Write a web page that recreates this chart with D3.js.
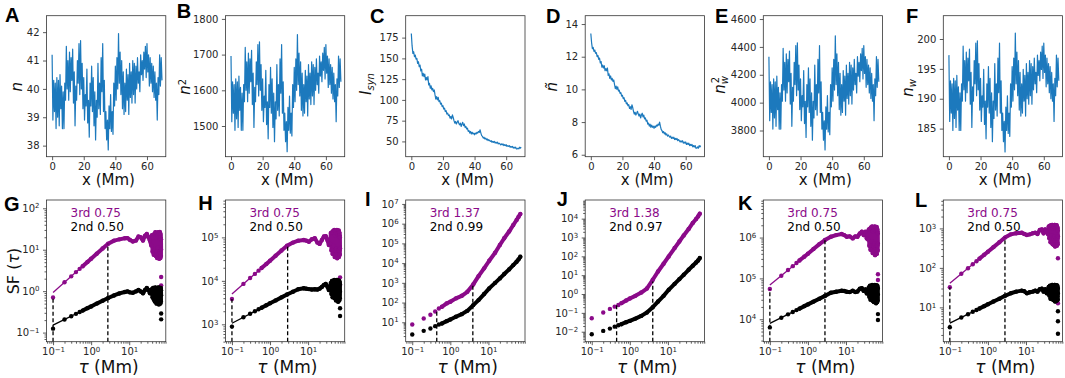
<!DOCTYPE html>
<html>
<head>
<meta charset="utf-8">
<script src="https://cdn.jsdelivr.net/npm/d3@7"></script>
<style>
  body { margin: 0; background: #fff; }
</style>
</head>
<body>
<div id="chart"></div>
<script>
// ---------- top row: profiles along x, one sample every 0.5 Mm from x = 0
const xStep = 0.5;
const xTicks = [0, 20, 40, 60];

const nProfile = [
  41.2, 38.9, 40.3, 39.2, 40.2, 38.6, 40.4, 39.0, 40.3, 38.7,
  40.5, 39.3, 40.1, 38.6, 39.9, 38.6, 40.2, 39.6, 41.5, 40.0,
  41.0, 39.6, 41.3, 39.9, 41.1, 40.3, 41.4, 39.5, 40.6, 38.7,
  40.1, 39.6, 41.0, 40.2, 41.6, 39.8, 41.7, 40.0, 40.9, 39.3,
  40.4, 38.9, 39.8, 39.4, 40.7, 38.8, 39.6, 38.3, 40.2, 39.4,
  40.8, 39.2, 40.4, 38.7, 39.9, 38.2, 39.6, 39.0, 40.9, 39.3,
  40.2, 39.1, 41.1, 39.9, 41.6, 39.2, 40.3, 38.6, 39.2, 38.2,
  38.9, 37.85, 39.4, 38.6, 39.8, 38.5, 39.2, 38.4, 40.2, 39.4,
  40.8, 39.6, 41.1, 40.0, 41.95, 40.2, 41.3, 39.8, 41.0, 39.3,
  40.6, 39.1, 40.2, 39.2, 40.7, 39.6, 40.5, 39.1, 40.9, 39.7,
  40.6, 39.5, 41.0, 39.8, 40.9, 39.5, 40.8, 40.0, 41.1, 40.2,
  40.6, 39.9, 41.2, 40.5, 41.0, 40.3, 41.3, 40.7, 41.5, 40.4,
  41.6, 40.6, 41.2, 40.1, 41.1, 40.2, 40.9, 39.9, 40.8, 39.7,
  40.6, 39.6, 40.2, 38.9, 40.4, 39.8, 41.2, 40.1, 41.1, 40.3
];

const n2Profile = [
  1696, 1512, 1624, 1536, 1616, 1488, 1632, 1520, 1624, 1496,
  1640, 1544, 1608, 1488, 1592, 1488, 1616, 1568, 1720, 1600,
  1680, 1568, 1704, 1592, 1688, 1624, 1712, 1560, 1648, 1496,
  1608, 1568, 1680, 1616, 1728, 1584, 1736, 1600, 1672, 1544,
  1632, 1512, 1584, 1552, 1656, 1504, 1568, 1464, 1616, 1552,
  1664, 1536, 1632, 1496, 1592, 1456, 1568, 1520, 1672, 1544,
  1616, 1528, 1688, 1592, 1728, 1536, 1624, 1488, 1536, 1456,
  1512, 1428, 1552, 1488, 1584, 1480, 1536, 1472, 1616, 1552,
  1664, 1568, 1688, 1600, 1756, 1616, 1704, 1584, 1680, 1544,
  1648, 1528, 1616, 1536, 1656, 1568, 1640, 1528, 1672, 1576,
  1648, 1560, 1680, 1584, 1672, 1560, 1664, 1600, 1688, 1616,
  1648, 1592, 1696, 1640, 1680, 1624, 1704, 1656, 1720, 1632,
  1728, 1648, 1696, 1608, 1688, 1616, 1672, 1592, 1664, 1576,
  1648, 1568, 1616, 1512, 1632, 1584, 1696, 1608, 1688, 1624
];

const isynProfile = [
  180, 165, 156, 158, 152, 154, 149, 150, 144, 146,
  140, 142, 135, 137, 129, 132, 128, 131, 124, 127,
  124, 128, 118, 120, 114, 117, 112, 114, 110, 112,
  106, 101, 104, 100, 103, 98, 99, 95, 96, 92,
  93, 89, 90, 86, 87, 83, 84, 81, 82, 78,
  80, 77, 82, 79, 75, 72, 74, 71, 73, 75,
  72, 70, 72, 68, 71, 73, 69, 71, 67, 68,
  65, 66, 62, 63, 60, 62, 59, 61, 59, 60,
  58, 60, 59, 61, 60, 62, 61, 64, 60, 57,
  56, 54, 55, 53, 54, 52, 53, 51, 52, 51,
  50, 51, 49, 50, 49, 50, 48, 49, 48, 49,
  47, 48, 47, 46, 47, 46, 47, 45, 46, 45,
  46, 44, 45, 44, 45, 43, 44, 43, 44, 42,
  43, 42, 43, 41, 41, 42, 41, 43, 42, 43
];

const ntildeProfile = [
  13.42, 12.85, 12.49, 12.57, 12.33, 12.41, 12.21, 12.25, 12.00, 12.08,
  11.83, 11.92, 11.62, 11.70, 11.36, 11.49, 11.31, 11.45, 11.14, 11.27,
  11.14, 11.31, 10.86, 10.95, 10.68, 10.82, 10.58, 10.68, 10.49, 10.58,
  10.30, 10.05, 10.20, 10.00, 10.15, 9.90, 9.95, 9.75, 9.80, 9.59,
  9.64, 9.43, 9.49, 9.27, 9.33, 9.11, 9.17, 9.00, 9.06, 8.83,
  8.94, 8.77, 9.06, 8.89, 8.66, 8.49, 8.60, 8.43, 8.54, 8.66,
  8.49, 8.37, 8.49, 8.25, 8.43, 8.54, 8.31, 8.43, 8.19, 8.25,
  8.06, 8.12, 7.87, 7.94, 7.75, 7.87, 7.68, 7.81, 7.68, 7.75,
  7.62, 7.75, 7.68, 7.81, 7.75, 7.87, 7.81, 8.00, 7.75, 7.55,
  7.48, 7.35, 7.42, 7.28, 7.35, 7.21, 7.28, 7.14, 7.21, 7.14,
  7.07, 7.14, 7.00, 7.07, 7.00, 7.07, 6.93, 7.00, 6.93, 7.00,
  6.86, 6.93, 6.86, 6.78, 6.86, 6.78, 6.86, 6.71, 6.78, 6.71,
  6.78, 6.63, 6.71, 6.63, 6.71, 6.56, 6.63, 6.56, 6.63, 6.48,
  6.56, 6.48, 6.56, 6.40, 6.40, 6.48, 6.40, 6.56, 6.48, 6.56
];

const nw2Profile = [
  4330, 3870, 4150, 3930, 4130, 3810, 4170, 3890, 4150, 3830,
  4190, 3950, 4110, 3810, 4070, 3810, 4130, 4010, 4390, 4090,
  4290, 4010, 4350, 4070, 4310, 4150, 4370, 3990, 4210, 3830,
  4110, 4010, 4290, 4130, 4410, 4050, 4430, 4090, 4270, 3950,
  4170, 3870, 4050, 3970, 4230, 3850, 4010, 3750, 4130, 3970,
  4250, 3930, 4170, 3830, 4070, 3730, 4010, 3890, 4270, 3950,
  4130, 3910, 4310, 4070, 4410, 3930, 4150, 3810, 3930, 3730,
  3870, 3660, 3970, 3810, 4050, 3790, 3930, 3770, 4130, 3970,
  4250, 4010, 4310, 4090, 4480, 4130, 4350, 4050, 4290, 3950,
  4210, 3910, 4130, 3930, 4230, 4010, 4190, 3910, 4270, 4030,
  4210, 3990, 4290, 4050, 4270, 3990, 4250, 4090, 4310, 4130,
  4210, 4070, 4330, 4190, 4290, 4150, 4350, 4230, 4390, 4170,
  4410, 4210, 4330, 4110, 4310, 4130, 4270, 4070, 4250, 4030,
  4210, 4010, 4130, 3870, 4170, 4050, 4330, 4110, 4310, 4150
];

const nwProfile = [
  197.3, 186.2, 193.0, 187.6, 192.5, 184.7, 193.4, 186.7, 193.0, 185.2,
  193.9, 188.1, 192.0, 184.7, 191.0, 184.7, 192.5, 189.6, 198.8, 191.5,
  196.4, 189.6, 197.8, 191.0, 196.8, 193.0, 198.3, 189.1, 194.4, 185.2,
  192.0, 189.6, 196.4, 192.5, 199.3, 190.5, 199.7, 191.5, 195.9, 188.1,
  193.4, 186.2, 190.5, 188.6, 194.9, 185.7, 189.6, 183.3, 192.5, 188.6,
  195.4, 187.6, 193.4, 185.2, 191.0, 182.8, 189.6, 186.7, 195.9, 188.1,
  192.5, 187.1, 196.8, 191.0, 199.3, 187.6, 193.0, 184.7, 187.6, 182.8,
  186.2, 181.1, 188.6, 184.7, 190.5, 184.2, 187.6, 183.7, 192.5, 188.6,
  195.4, 189.6, 196.8, 191.5, 201.0, 192.5, 197.8, 190.5, 196.4, 188.1,
  194.4, 187.1, 192.5, 187.6, 194.9, 189.6, 193.9, 187.1, 195.9, 190.0,
  194.4, 189.1, 196.4, 190.5, 195.9, 189.1, 195.4, 191.5, 196.8, 192.5,
  194.4, 191.0, 197.3, 193.9, 196.4, 193.0, 197.8, 194.9, 198.8, 193.4,
  199.3, 194.4, 197.3, 192.0, 196.8, 192.5, 195.9, 191.0, 195.4, 190.0,
  194.4, 189.6, 192.5, 186.2, 193.4, 190.5, 197.3, 192.0, 196.8, 193.0
];

// ---------- bottom row: structure functions, values are log10(SF)
const tauLag = [
  0.1, 0.2, 0.3, 0.4, 0.5, 0.6, 0.8, 1.0, 1.4, 2.0, 2.8, 4.0, 5.5, 7.7, 9.0, 10.5, 12.5, 15.0, 17.5, 20.0,
  23.0, 26.0, 29.0, 32.0, 35.0, 38.0, 39.5, 41.0, 42.5, 44.0, 45.5, 47.0, 48.5, 50.0, 51.0, 52.0, 53.0,
  54.0, 55.0, 56.0, 57.0, 58.0, 59.0, 60.0, 60.8, 61.5, 62.2, 63.0, 63.8, 64.5, 65.2, 66.0, 66.5, 67.0,
  67.5, 68.0, 68.4, 68.8
];
const tauLagSmooth = [0.1, 0.2, 0.3, 0.4, 0.5, 0.6, 0.8, 1.0, 1.4, 2.0, 2.8, 4.0, 5.5, 7.7, 10.5, 15.0, 20.0, 26.0, 35.0, 45.0, 55.0, 62.0, 68.8];
const tauEnd = 69;

const sfG3 = [-0.153, 0.215, 0.357, 0.46, 0.538, 0.602, 0.705, 0.783, 0.903, 1.028, 1.146, 1.22, 1.25, 1.276, 1.28, 1.236, 1.2, 1.22, 1.318, 1.3, 1.22, 1.34, 1.38, 1.3, 1.22,
  1.10, 1.35, 0.95, 1.30, 0.88, 1.38, 1.00, 1.42, 0.85, 1.30, 0.95, 1.40, 0.80, 1.33, 1.05, 1.42, 0.82, 1.36, 0.90, 1.40, 0.78, 1.30, 0.95, 1.43, 0.85, 1.35, 0.80, 1.38, 0.92, 1.30, 0.85, 1.25, 1.00];
const sfG2 = [-0.905, -0.685, -0.606, -0.548, -0.504, -0.469, -0.41, -0.369, -0.3, -0.231, -0.165, -0.104, -0.055, -0.022, -0.006, -0.03, -0.04, -0.006, 0.026, -0.006, -0.05, 0.026, 0.075, 0.026, -0.05,
  -0.05, 0.05, -0.15, 0.08, -0.2, 0.02, -0.25, 0.09, -0.12, 0.05, -0.3, 0.06, -0.18, 0.08, -0.28, 0.04, -0.1, 0.09, -0.32, 0.05, -0.2, 0.08, -0.25, 0.07, -0.15, 0.06, -0.3, 0.05, -0.2, 0.08, -0.25, 0.02, -0.1];
const sfH3 = [3.584, 3.93, 4.065, 4.16, 4.235, 4.295, 4.39, 4.465, 4.577, 4.697, 4.807, 4.88, 4.925, 4.94, 4.925, 4.9, 4.956, 4.98, 4.88, 4.85, 4.94, 5.02, 5.03, 4.94, 4.825,
  4.85, 5.10, 4.70, 5.12, 4.62, 5.15, 4.80, 5.17, 4.55, 5.05, 4.70, 5.14, 4.60, 5.10, 4.75, 5.17, 4.52, 5.08, 4.65, 5.15, 4.58, 5.10, 4.70, 5.16, 4.55, 5.12, 4.62, 5.10, 4.70, 5.05, 4.60, 5.00, 4.75];
const sfH2 = [2.947, 3.163, 3.243, 3.3, 3.345, 3.38, 3.44, 3.483, 3.55, 3.62, 3.687, 3.75, 3.807, 3.83, 3.82, 3.81, 3.80, 3.807, 3.80, 3.82, 3.86, 3.906, 3.93, 3.87, 3.79,
  3.80, 3.95, 3.70, 4.00, 3.62, 3.98, 3.75, 4.02, 3.60, 3.95, 3.70, 4.00, 3.55, 3.96, 3.72, 4.02, 3.58, 3.98, 3.65, 4.00, 3.52, 3.95, 3.70, 4.01, 3.60, 3.97, 3.55, 3.99, 3.68, 3.95, 3.60, 3.92, 3.75];
const sfI3 = [0.89, 1.195, 1.378, 1.55, 1.70, 1.784, 1.956, 2.04, 2.21, 2.342, 2.545, 2.92, 3.34, 3.733, 4.12, 4.525, 4.916, 5.26, 5.6, 5.93, 6.185, 6.35, 6.49];
const sfI2 = [0.383, 0.566, 0.686, 0.804, 0.89, 0.94, 1.058, 1.143, 1.277, 1.413, 1.58, 1.87, 2.124, 2.43, 2.718, 3.0, 3.225, 3.444, 3.68, 3.9, 4.068, 4.19, 4.32];
const sfJ3 = [-1.283, -0.984, -0.79, -0.67, -0.58, -0.485, -0.346, -0.24, -0.096, 0.08, 0.29, 0.755, 1.197, 1.606, 1.995, 2.44, 2.79, 3.11, 3.45, 3.77, 3.983, 4.12, 4.265];
const sfJ2 = [-2.134, -1.958, -1.836, -1.73, -1.655, -1.6, -1.495, -1.426, -1.303, -1.16, -0.985, -0.70, -0.40, -0.096, 0.223, 0.54, 0.79, 1.02, 1.287, 1.5, 1.675, 1.78, 1.91];
const sfK3 = [4.739, 5.065, 5.204, 5.3, 5.376, 5.44, 5.53, 5.604, 5.72, 5.84, 5.94, 6.02, 6.06, 6.087, 6.06, 6.02, 6.03, 5.98, 6.03, 6.02, 6.1, 6.143, 6.06, 6.143, 5.98,
  5.95, 6.20, 5.80, 6.22, 5.70, 6.25, 5.90, 6.27, 5.62, 6.15, 5.80, 6.24, 5.68, 6.20, 5.85, 6.27, 5.57, 6.18, 5.75, 6.25, 5.65, 6.20, 5.80, 6.26, 5.60, 6.22, 5.70, 6.20, 5.80, 6.15, 5.68, 6.10, 5.85];
const sfK2 = [3.8, 4.037, 4.12, 4.177, 4.224, 4.26, 4.32, 4.364, 4.432, 4.503, 4.572, 4.648, 4.673, 4.697, 4.69, 4.673, 4.665, 4.697, 4.665, 4.68, 4.746, 4.763, 4.697, 4.73, 4.633,
  4.65, 4.78, 4.55, 4.82, 4.48, 4.80, 4.60, 4.84, 4.45, 4.78, 4.55, 4.82, 4.42, 4.80, 4.58, 4.84, 4.44, 4.80, 4.50, 4.82, 4.39, 4.78, 4.55, 4.83, 4.45, 4.80, 4.42, 4.82, 4.52, 4.78, 4.46, 4.75, 4.60];
const sfL3 = [1.51, 1.852, 1.99, 2.092, 2.17, 2.234, 2.333, 2.41, 2.527, 2.65, 2.768, 2.85, 2.876, 2.893, 2.86, 2.834, 2.85, 2.876, 2.893, 2.86, 2.96, 2.977, 2.876, 2.977, 2.92,
  2.85, 3.05, 2.75, 3.07, 2.65, 3.08, 2.82, 3.09, 2.60, 3.00, 2.75, 3.06, 2.58, 3.05, 2.80, 3.09, 2.54, 3.02, 2.70, 3.08, 2.60, 3.04, 2.75, 3.08, 2.56, 3.05, 2.65, 3.03, 2.75, 3.00, 2.60, 2.95, 2.80];
const sfL2 = [0.497, 0.742, 0.826, 0.887, 0.932, 0.97, 1.031, 1.077, 1.148, 1.22, 1.292, 1.357, 1.398, 1.424, 1.41, 1.357, 1.383, 1.398, 1.424, 1.398, 1.459, 1.475, 1.398, 1.459, 1.357,
  1.40, 1.52, 1.30, 1.55, 1.22, 1.54, 1.35, 1.57, 1.20, 1.50, 1.30, 1.55, 1.18, 1.53, 1.32, 1.57, 1.15, 1.52, 1.25, 1.55, 1.16, 1.50, 1.30, 1.56, 1.20, 1.53, 1.18, 1.55, 1.28, 1.50, 1.20, 1.48, 1.35];

// stray points at the largest lag (log10 SF)
const tailG3 = [0.34, 0.14], tailG2 = [-0.54, -0.68];
const tailH3 = [4.08, 3.906], tailH2 = [3.37, 3.19];
const tailK3 = [5.1, 4.96], tailK2 = [4.126, 3.98];
const tailL3 = [2.244, 1.105], tailL2 = [0.9, 0.65, 0.33];

// power-law fits [tau, log10 SF] at the two ends of the fit range
const fitG3 = [[0.1, -0.03], [2.75, 1.146]], fitG2 = [[0.1, -0.82], [2.75, -0.165]];
const fitH3 = [[0.1, 3.70], [2.9, 4.82]], fitH2 = [[0.1, 3.025], [2.9, 3.69]];
const fitK3 = [[0.1, 4.837], [2.8, 5.94]], fitK2 = [[0.1, 3.898], [2.8, 4.572]];
const fitL3 = [[0.1, 1.61], [2.8, 2.768]], fitL2 = [[0.1, 0.6], [2.8, 1.292]];

// dashed markers of the fit range [tau, log10 SF at top]
const dashG = [[0.1, -0.153], [2.75, 1.146]];
const dashH = [[0.1, 3.584], [2.9, 4.82]];
const dashI = [[0.44, 1.65], [3.9, 2.886]];
const dashJ = [[0.45, -0.575], [4.0, 0.665]];
const dashK = [[0.1, 4.739], [2.8, 5.94]];
const dashL = [[0.1, 1.51], [2.8, 2.768]];

const slope3 = ["0.75", "0.75", "1.37", "1.38", "0.75", "0.75"];
const slope2 = ["0.50", "0.50", "0.99", "0.97", "0.50", "0.50"];

// ---------- layout
const W = 1065, H = 378;
const BLUE = "#1c79bd", PURPLE = "#8b0a89", INK = "#262626", SPINE = "#333";
const PW = 119.3;
const rowTop = { y: 15.7, h: 141 };
const rowBot = { y: 200, h: 141.7 };
const lefts = [46.5, 225.4, 405.7, 585.2, 763.3, 943.3];

const svg = d3.select("#chart").append("svg")
  .attr("width", W).attr("height", H)
  .style("font-family", "'DejaVu Sans', sans-serif");

function styleAxis(g) {
  g.attr("font-family", "DejaVu Sans").attr("font-size", 10);
  g.select(".domain").remove();
  g.selectAll(".tick line").attr("stroke", SPINE).attr("stroke-width", 0.8);
  g.selectAll(".tick text").attr("fill", INK);
}

function powLabels(g) {
  g.selectAll(".tick text").each(function (d) {
    const e = Math.round(Math.log10(d));
    const t = d3.select(this).text("10");
    t.append("tspan").attr("dy", "-0.5em").attr("font-size", 7)
      .text(e < 0 ? "\u2212" + (-e) : String(e));
  });
}

function logTicks(domain) {
  const major = [], minor = [];
  const lo = Math.floor(Math.log10(domain[0])), hi = Math.ceil(Math.log10(domain[1]));
  for (let e = lo; e <= hi; e++) {
    for (let m = 1; m <= 9; m++) {
      const v = m * Math.pow(10, e);
      if (v < domain[0] || v > domain[1]) continue;
      (m === 1 ? major : minor).push(v);
    }
  }
  return { major, minor };
}

function letter(txt, x, y) {
  svg.append("text").attr("x", x).attr("y", y)
    .attr("font-family", "'Liberation Sans', Arial, sans-serif")
    .attr("font-weight", "bold").attr("font-size", 20).attr("fill", "#000")
    .text(txt);
}

function yLabel(x, y, build, size) {
  const t = svg.append("text")
    .attr("transform", `translate(${x},${y}) rotate(-90)`)
    .attr("text-anchor", "middle").attr("font-size", size || 15).attr("fill", "#111");
  build(t);
}

// ---------- top row
const topPanels = [
  { id: "A", values: nProfile, yDom: [37.61, 42.58], yTicks: [38, 39, 40, 41, 42], letter: [5, 21.7] },
  { id: "B", values: n2Profile, yDom: [1414, 1809], yTicks: [1500, 1600, 1700, 1800], letter: [176.7, 17.5] },
  { id: "C", values: isynProfile, yDom: [31.6, 201.4], yTicks: [50, 75, 100, 125, 150, 175], letter: [370, 23.3] },
  { id: "D", values: ntildeProfile, yDom: [5.88, 14.51], yTicks: [6, 8, 10, 12, 14], letter: [546, 23.3] },
  { id: "E", values: nw2Profile, yDom: [3612, 4624], yTicks: [3800, 4000, 4200, 4400, 4600], letter: [715, 22.7] },
  { id: "F", values: nwProfile, yDom: [180.3, 203.9], yTicks: [185, 190, 195, 200], letter: [906, 23.3] }
];

topPanels.forEach((p, i) => {
  const g = svg.append("g").attr("transform", `translate(${lefts[i]},${rowTop.y})`);
  const x = d3.scaleLinear().domain([-3.55, 71.9]).range([0, PW]);
  const y = d3.scaleLinear().domain(p.yDom).range([rowTop.h, 0]);

  g.append("path").datum(p.values)
    .attr("d", d3.line().x((d, j) => x(j * xStep)).y(d => y(d)))
    .attr("fill", "none").attr("stroke", BLUE)
    .attr("stroke-width", 1.2).attr("stroke-linejoin", "round");

  g.append("g").attr("transform", `translate(0,${rowTop.h})`)
    .call(d3.axisBottom(x).tickValues(xTicks).tickSize(3.5).tickPadding(2.5).tickFormat(d3.format("d")))
    .call(styleAxis);
  g.append("g")
    .call(d3.axisLeft(y).tickValues(p.yTicks).tickSize(3.5).tickPadding(3.5).tickFormat(d3.format("d")))
    .call(styleAxis);

  g.append("rect").attr("width", PW).attr("height", rowTop.h)
    .attr("fill", "none").attr("stroke", SPINE).attr("stroke-width", 0.8);

  g.append("text").attr("x", 62).attr("y", 185 - rowTop.y)
    .attr("text-anchor", "middle").attr("font-size", 15).attr("fill", "#111")
    .text("x (Mm)");

  letter(p.id, p.letter[0], p.letter[1]);
});

// y labels of the top row
yLabel(22, 86.7, t => t.append("tspan").attr("font-style", "italic").text("n"));
yLabel(190, 86.7, t => {
  t.append("tspan").attr("font-style", "italic").text("n");
  t.append("tspan").attr("dy", "-0.45em").attr("font-size", 10).text("2");
});
yLabel(371, 84, t => {
  t.append("tspan").attr("font-style", "italic").text("I");
  t.append("tspan").attr("dy", "0.3em").attr("font-size", 10).attr("font-style", "italic").text("syn");
});
yLabel(556.5, 86.7, t => t.append("tspan").attr("font-style", "italic").text("\u00f1"));
yLabel(725, 85, t => {
  t.append("tspan").attr("font-style", "italic").text("n");
  t.append("tspan").attr("dy", "0.3em").attr("font-size", 10).attr("font-style", "italic").text("w");
  t.append("tspan").attr("dx", "-7").attr("dy", "-0.95em").attr("font-size", 10).text("2");
});
yLabel(913, 88, t => {
  t.append("tspan").attr("font-style", "italic").text("n");
  t.append("tspan").attr("dy", "0.3em").attr("font-size", 10).attr("font-style", "italic").text("w");
});

// ---------- bottom row
const botPanels = [
  { id: "G", tau: tauLag, s3: sfG3, s2: sfG2, tail3: tailG3, tail2: tailG2, fit3: fitG3, fit2: fitG2, dash: dashG, yDom: [-1.22, 2.2], letter: [4, 210.7] },
  { id: "H", tau: tauLag, s3: sfH3, s2: sfH2, tail3: tailH3, tail2: tailH2, fit3: fitH3, fit2: fitH2, dash: dashH, yDom: [2.6, 5.86], letter: [198.3, 210] },
  { id: "I", tau: tauLagSmooth, s3: sfI3, s2: sfI2, tail3: [], tail2: [], fit3: null, fit2: null, dash: dashI, yDom: [0.015, 7.2], letter: [365, 206] },
  { id: "J", tau: tauLagSmooth, s3: sfJ3, s2: sfJ2, tail3: [], tail2: [], fit3: null, fit2: null, dash: dashJ, yDom: [-2.53, 4.99], letter: [556.7, 206] },
  { id: "K", tau: tauLag, s3: sfK3, s2: sfK2, tail3: tailK3, tail2: tailK2, fit3: fitK3, fit2: fitK2, dash: dashK, yDom: [3.45, 6.92], letter: [738, 210] },
  { id: "L", tau: tauLag, s3: sfL3, s2: sfL2, tail3: tailL3, tail2: tailL2, fit3: fitL3, fit2: fitL2, dash: dashL, yDom: [0.13, 3.72], letter: [915, 206.7] }
];

const tauDomain = [Math.pow(10, -1.172), Math.pow(10, 1.961)];

botPanels.forEach((p, i) => {
  const g = svg.append("g").attr("transform", `translate(${lefts[i]},${rowBot.y})`);
  const x = d3.scaleLog().domain(tauDomain).range([0, PW]);
  const yDomain = p.yDom.map(v => Math.pow(10, v));
  const y = d3.scaleLog().domain(yDomain).range([rowBot.h, 0]);
  const yl = v => y(Math.pow(10, v));

  [[p.s3, PURPLE, p.tail3, p.fit3], [p.s2, "#000", p.tail2, p.fit2]].forEach(([vals, col, tail, fit]) => {
    const pts = vals.map((v, j) => ({ t: p.tau[j], v }));
    g.append("path").datum(pts.filter(d => d.t >= 0.6))
      .attr("d", d3.line().x(d => x(d.t)).y(d => yl(d.v)))
      .attr("fill", "none").attr("stroke", col).attr("stroke-width", 4)
      .attr("stroke-linejoin", "round").attr("stroke-linecap", "round");
    g.selectAll(null).data(pts).join("circle")
      .attr("cx", d => x(d.t)).attr("cy", d => yl(d.v)).attr("r", 2.2).attr("fill", col);
    g.selectAll(null).data(tail).join("circle")
      .attr("cx", x(tauEnd)).attr("cy", d => yl(d)).attr("r", 2.2).attr("fill", col);
    if (fit) {
      g.append("line")
        .attr("x1", x(fit[0][0])).attr("y1", yl(fit[0][1]))
        .attr("x2", x(fit[1][0])).attr("y2", yl(fit[1][1]))
        .attr("stroke", col).attr("stroke-width", 1.3);
    }
  });

  p.dash.forEach(([t, v]) => {
    g.append("line").attr("x1", x(t)).attr("x2", x(t))
      .attr("y1", rowBot.h).attr("y2", yl(v))
      .attr("stroke", "#000").attr("stroke-width", 1.3).attr("stroke-dasharray", "4,2.5");
  });

  const xt = logTicks(tauDomain), yt = logTicks(yDomain);
  g.append("g").attr("transform", `translate(0,${rowBot.h})`)
    .call(d3.axisBottom(x).tickValues(xt.minor).tickSize(2).tickFormat(() => ""))
    .call(styleAxis);
  g.append("g").attr("transform", `translate(0,${rowBot.h})`)
    .call(d3.axisBottom(x).tickValues(xt.major).tickSize(3.5).tickPadding(3))
    .call(styleAxis).call(powLabels);
  g.append("g")
    .call(d3.axisLeft(y).tickValues(yt.minor).tickSize(2).tickFormat(() => ""))
    .call(styleAxis);
  g.append("g")
    .call(d3.axisLeft(y).tickValues(yt.major).tickSize(3.5).tickPadding(3.5))
    .call(styleAxis).call(powLabels);

  g.append("rect").attr("width", PW).attr("height", rowBot.h)
    .attr("fill", "none").attr("stroke", SPINE).attr("stroke-width", 0.8);

  g.append("text").attr("x", 24).attr("y", 16.5).attr("font-size", 12).attr("fill", PURPLE)
    .text("3rd " + slope3[i]);
  g.append("text").attr("x", 24).attr("y", 30.5).attr("font-size", 12).attr("fill", "#000")
    .text("2nd " + slope2[i]);

  const xl = g.append("text").attr("x", 62).attr("y", 373 - rowBot.y)
    .attr("text-anchor", "middle").attr("font-size", 17).attr("fill", "#111");
  xl.append("tspan").attr("font-style", "italic").text("\u03c4");
  xl.append("tspan").text(" (Mm)");

  letter(p.id, p.letter[0], p.letter[1]);
});

yLabel(18.5, 271, t => {
  t.append("tspan").text("SF (");
  t.append("tspan").attr("font-style", "italic").text("\u03c4");
  t.append("tspan").text(")");
}, 16);
</script>
</body>
</html>
